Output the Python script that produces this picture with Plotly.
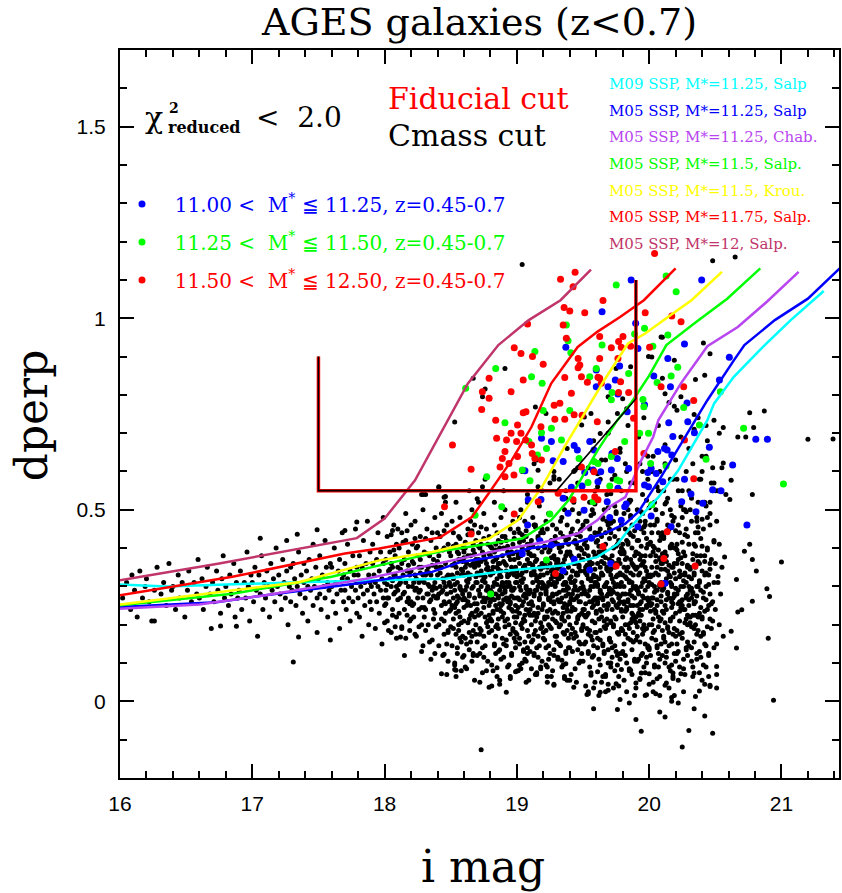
import plotly.graph_objects as go

# ---------------- model curves (i mag, dperp) ----------------
M09_SALP_1125_I = [16.0, 16.35, 17.35, 18.1, 18.46, 18.96, 19.36, 19.61, 19.76, 19.86, 20.07, 20.22, 20.34, 20.44, 20.49, 20.64, 20.86, 21.07, 21.32]
M09_SALP_1125_D = [0.305, 0.300, 0.311, 0.318, 0.320, 0.342, 0.355, 0.377, 0.410, 0.455, 0.533, 0.603, 0.673, 0.734, 0.777, 0.847, 0.925, 0.995, 1.071]

M05_SALP_1125_I = [16.0, 16.73, 17.1, 17.86, 18.36, 18.58, 18.86, 19.09, 19.46, 19.66, 19.82, 19.92, 20.09, 20.24, 20.35, 20.44, 20.64, 20.72, 20.95, 21.2, 21.44]
M05_SALP_1125_D = [0.246, 0.259, 0.277, 0.311, 0.338, 0.364, 0.379, 0.399, 0.416, 0.438, 0.464, 0.495, 0.586, 0.673, 0.734, 0.786, 0.890, 0.930, 0.995, 1.051, 1.130]

M05_CHAB_1125_I = [16.0, 16.6, 17.1, 17.86, 18.46, 18.86, 19.21, 19.46, 19.61, 19.71, 19.82, 19.94, 20.03, 20.07, 20.24, 20.44, 20.67, 20.89, 21.13]
M05_CHAB_1125_D = [0.242, 0.253, 0.277, 0.320, 0.364, 0.394, 0.416, 0.438, 0.473, 0.510, 0.533, 0.629, 0.690, 0.734, 0.830, 0.927, 0.977, 1.043, 1.121]

M05_SALP_115_I = [16.0, 16.85, 17.6, 17.96, 18.46, 19.04, 19.26, 19.39, 19.46, 19.61, 19.76, 19.86, 20.0, 20.13, 20.34, 20.59, 20.84]
M05_SALP_115_D = [0.251, 0.281, 0.325, 0.355, 0.394, 0.425, 0.473, 0.525, 0.565, 0.655, 0.734, 0.777, 0.850, 0.930, 0.986, 1.051, 1.130]

M05_KROU_115_I = [16.0, 17.35, 17.96, 18.36, 18.79, 19.01, 19.19, 19.36, 19.51, 19.66, 19.84, 19.97, 20.15, 20.32, 20.55]
M05_KROU_115_D = [0.253, 0.311, 0.368, 0.390, 0.425, 0.473, 0.560, 0.664, 0.751, 0.838, 0.934, 0.960, 1.005, 1.047, 1.121]

M05_SALP_1175_I = [16.0, 16.85, 17.70, 17.96, 18.42, 18.66, 18.785, 18.96, 19.11, 19.26, 19.46, 19.61, 19.78, 19.96, 20.2]
M05_SALP_1175_D = [0.277, 0.325, 0.386, 0.399, 0.428, 0.481, 0.542, 0.629, 0.716, 0.830, 0.925, 0.965, 1.003, 1.047, 1.130]

M05_SALP_12_I = [16.0, 16.75, 17.79, 18.0, 18.23, 18.41, 18.63, 18.86, 19.09, 19.33, 19.56]
M05_SALP_12_D = [0.316, 0.360, 0.426, 0.477, 0.577, 0.690, 0.830, 0.930, 0.995, 1.047, 1.127]

MODEL_LABELS = ["M09 SSP, M*=11.25, Salp", "M05 SSP, M*=11.25, Salp", "M05 SSP, M*=11.25, Chab.",
                "M05 SSP, M*=11.5, Salp.", "M05 SSP, M*=11.5, Krou.", "M05 SSP, M*=11.75, Salp.",
                "M05 SSP, M*=12, Salp."]
MODEL_COLORS = ["#00ffff", "#0000ff", "#b845f0", "#00ff00", "#ffff00", "#ff0000", "#c0356a"]

# ---------------- cuts ----------------
FIDUCIAL_I = [17.5, 17.5, 19.9, 19.9]
FIDUCIAL_D = [0.9, 0.55, 0.55, 1.1]
CMASS_I = [17.5, 17.5, 19.3, 19.9, 19.9]
CMASS_D = [0.9, 0.55, 0.55, 0.79, 1.1]

# ---------------- coloured galaxies (i mag, dperp) ----------------
BIN_LABELS = ["11.00 &lt;  M<sup>*</sup> ≦ 11.25, z=0.45-0.7",
              "11.25 &lt;  M<sup>*</sup> ≦ 11.50, z=0.45-0.7",
              "11.50 &lt;  M<sup>*</sup> ≦ 12.50, z=0.45-0.7"]
BIN_COLORS = ["#0000ff", "#00ff00", "#ff0000"]

BLUE_PTS = [(19.864,1.100),(19.644,1.017),(19.37,0.924),(19.898,0.987),(19.915,0.921),(19.777,0.875),(19.60,0.865),
 (19.689,0.821),(19.744,0.839),(19.764,0.802),(19.60,0.821),(19.965,0.774),(19.834,0.756),(19.433,0.668),(19.457,0.656),
 (19.261,0.678),(19.186,0.687),(19.274,0.628),(19.35,0.626),(19.551,0.678),(19.583,0.656),(19.576,0.604),(19.714,0.604),
 (19.845,0.608),(19.061,0.602),(19.182,0.527),(19.35,0.530),(19.412,0.559),(19.493,0.562),(19.827,0.515),(19.995,0.560),
 (20.035,0.849),(20.141,0.895),(20.161,0.821),(20.148,0.727),(20.179,0.691),(20.116,0.660),(20.015,0.608),(20.397,1.100),
 (20.267,0.933),(20.606,0.898),(20.531,0.839),(20.286,0.779),(20.292,0.730),(20.342,0.701),(20.806,0.684),(20.894,0.684),
 (20.455,0.663),(20.066,0.652),(20.136,0.656),(20.171,0.643),(20.631,0.617),(19.719,0.647),(19.759,0.634),(19.634,0.599),
 (19.513,0.597),(19.99,0.597),(20.053,0.595),(20.267,0.580),(20.103,0.573),(19.965,0.565),(19.613,0.573),(19.764,0.556),
 (20.48,0.552),(20.543,0.550),(20.316,0.541),(20.246,0.521),(20.405,0.517),(19.508,0.499),(19.683,0.521),(19.815,0.508),
 (19.702,0.480),(19.789,0.473),(20.015,0.484),(20.354,0.495),(20.166,0.456),(19.915,0.456),(20.739,0.460),(19.563,0.426),
 (19.709,0.360),(19.551,0.343),(20.12,0.308),(19.086,0.526),(19.387,0.491),(19.081,0.460),(19.174,0.419),(19.261,0.408),
 (19.041,0.385),(19.433,0.371),(19.35,0.341)]

GREEN_PTS = [(19.751,1.087),(19.374,0.982),(19.387,0.941),(19.408,0.910),(19.136,0.913),(18.84,0.869),(19.111,0.847),
 (19.191,0.830),(19.60,0.869),(19.551,0.847),(19.644,0.930),(19.965,0.974),(18.613,0.817),(19.199,0.759),(18.91,0.727),
 (19.261,0.713),(19.40,0.759),(19.186,0.701),(19.337,0.682),(19.091,0.678),(19.224,0.660),(19.156,0.643),(19.041,0.604),
 (18.772,0.586),(19.099,0.576),(19.47,0.634),(19.583,0.626),(19.714,0.787),(19.815,0.678),(19.845,0.856),(19.96,0.769),
 (19.928,0.700),(19.714,0.639),(19.757,0.578),(19.702,0.562),(18.885,0.508),(18.684,0.486),(20.128,1.110),(20.204,1.069),
 (19.89,0.959),(20.141,0.956),(20.028,0.927),(20.216,0.872),(20.166,0.849),(20.06,0.832),(19.719,0.806),(19.953,0.788),
 (20.538,0.808),(20.261,0.767),(20.38,0.721),(19.995,0.700),(20.714,0.713),(20.011,0.621),(20.128,0.614),(19.613,0.621),
 (19.777,0.575),(19.538,0.571),(19.576,0.521),(20.43,0.632),(21.015,0.567),(20.02,0.513),(19.249,0.489),(19.224,0.369),
 (18.802,0.280)]

RED_PTS = [(19.44,1.120),(19.33,1.102),(19.425,1.082),(19.651,1.046),(19.357,1.028),(19.40,1.019),(19.513,1.014),
 (19.081,0.985),(19.35,0.982),(19.374,0.948),(18.98,0.923),(19.031,0.908),(19.118,0.900),(19.199,0.880),(19.463,0.895),
 (19.476,0.878),(19.626,0.895),(19.714,0.923),(19.764,0.895),(19.802,0.952),(19.789,0.924),(18.79,0.843),(19.048,0.839),
 (19.362,0.845),(19.488,0.847),(19.533,0.833),(19.463,0.871),(19.613,0.846),(19.638,0.830),(18.739,0.808),(18.79,0.791),
 (18.956,0.808),(19.412,0.804),(18.734,0.762),(19.069,0.756),(19.282,0.773),(19.325,0.778),(19.433,0.748),(19.287,0.736),
 (18.84,0.734),(19.048,0.753),(19.005,0.721),(18.956,0.700),(19.031,0.700),(19.182,0.717),(19.362,0.736),(18.847,0.687),
 (18.922,0.682),(18.998,0.678),(19.066,0.682),(19.608,0.730),(19.882,0.739),(19.493,0.747),(18.513,0.669),(19.111,0.669),
 (18.91,0.652),(19.116,0.647),(19.136,0.634),(19.186,0.630),(19.005,0.639),(18.94,0.621),(18.89,0.634),(19.744,0.652),
 (18.873,0.612),(18.654,0.606),(18.91,0.586),(18.978,0.591),(19.312,0.543),(18.453,0.508),(18.98,0.489),(19.589,0.534),
 (19.613,0.526),(20.041,1.169),(19.97,1.014),(20.171,1.006),(20.241,0.991),(19.769,0.939),(19.626,0.952),(20.003,0.924),
 (19.86,0.927),(19.784,0.834),(19.769,0.806),(19.845,0.806),(19.626,0.843),(20.261,0.821),(20.09,0.821),(20.337,0.785),
 (19.96,0.647),(19.583,0.599),(19.488,0.612),(19.508,0.533),(20.267,0.682),(20.337,0.581),(20.136,0.443),(19.651,0.404),
 (20.111,0.373),(19.751,0.353),(20.347,0.353),(20.09,0.306),(18.654,0.437),(19.292,0.334),(19.161,0.521),(19.425,0.526)]

# ---------------- black galaxies ----------------
# each line: column start (i mag) : pairs "hundredths of mag inside column , dperp in hundredths"
BLACK_COLUMNS = """
16.0: 2,27 5,31 8,24 9,33
16.1: 1,29 3,22 5,34 7,27 9,30
16.2: 0,32 2,26 4,21 6,29 8,35
16.3: 1,28 3,31 5,25 7,36 9,29
16.4: 0,30 2,24 4,33 5,27 7,31 9,22
16.5: 1,29 2,34 4,26 6,31 8,28 9,37
16.6: 0,27 2,32 3,24 5,30 6,35 8,28 9,19
16.7: 0,31 1,26 3,34 4,29 6,23 7,32 8,38 9,27
16.8: 0,30 2,25 3,33 4,28 6,36 7,22 8,31 9,27
16.9: 0,29 1,34 2,24 4,31 5,27 6,39 7,30 8,21 9,33
17.0: 0,31 1,26 2,35 3,29 4,17 5,33 6,28 7,38 8,24 9,31
17.1: 0,27 1,34 2,30 3,22 4,36 5,29 6,32 7,26 8,40 9,30
17.2: 0,33 1,28 2,24 3,37 4,31 5,27 6,34 7,20 8,30 9,35 9,26
17.3: 0,29 1,36 2,32 3,25 4,30 5,39 6,28 7,33 8,23 9,31 9,36
17.4: 0,27 1,34 2,30 2,21 3,37 4,29 5,32 6,25 6,41 7,30 8,35 9,27 9,18
17.5: 0,32 1,28 1,38 2,24 3,33 4,30 5,27 5,42 6,35 7,22 7,31 8,29 9,36 9,16
17.6: 0,30 0,35 1,26 2,40 3,31 3,23 4,28 5,34 6,37 6,19 7,29 8,32 8,44 9,26 9,33
17.7: 0,29 0,36 1,24 2,32 2,41 3,27 4,34 4,21 5,30 6,38 6,26 7,33 8,29 8,45 9,23 9,35 9,31
17.8: 0,33 0,27 1,38 1,22 2,30 3,35 3,17 4,28 4,42 5,31 5,25 6,36 7,29 7,47 8,33 8,20 9,26 9,39 9,31
17.9: 0,30 0,24 1,36 1,41 2,28 2,33 3,19 3,31 4,37 4,26 5,44 5,30 6,23 6,34 7,29 7,39 8,15 8,32 9,27 9,36 9,48
18.0: 0,31 0,25 1,37 1,29 2,43 2,21 3,34 3,27 4,32 4,39 5,18 5,30 6,35 6,24 7,28 7,46 8,33 8,38 9,22 9,30 9,41 5,36 2,27 7,33
18.1: 0,29 0,35 1,23 1,40 2,31 2,27 3,44 3,19 4,33 4,28 5,37 5,24 6,31 6,49 7,26 7,34 8,30 8,39 9,21 9,33 3,36 5,12 8,27 6,42 1,32 0,45
18.2: 0,34 0,26 1,30 1,41 2,22 2,36 3,29 3,47 4,32 4,17 5,27 5,38 6,31 6,24 7,43 7,29 8,35 8,20 9,33 9,27 9,50 2,31 4,40 6,35 8,13 1,25 3,33 7,37
18.3: 0,31 0,39 1,24 1,33 2,28 2,45 3,35 3,20 4,30 4,26 5,42 5,33 6,16 6,29 7,37 7,24 8,31 8,48 9,27 9,35 0,22 2,34 4,38 5,11 6,44 7,30 8,23 9,40 3,28 1,54
18.4: 0,33 0,27 1,38 1,20 2,30 2,43 3,25 3,35 4,29 4,12 5,40 5,31 6,23 6,36 7,28 7,46 8,33 8,18 9,39 9,26 0,44 2,35 3,49 4,32 5,21 6,30 7,15 7,7 8,41 9,31 1,28 5,26 6,52
18.5: 0,30 0,38 1,25 1,33 2,44 2,19 3,29 3,36 4,23 4,41 5,31 5,14 6,37 6,27 7,48 7,22 8,33 8,29 9,40 9,17 0,24 1,47 2,32 3,10 4,35 5,26 6,43 7,30 8,8 9,34 2,27 4,52 6,20 8,37 5,39 9,28
18.6: 0,33 0,21 1,29 1,40 2,36 2,25 3,45 3,31 4,18 4,28 5,38 5,33 6,23 6,50 7,30 7,12 8,35 8,27 9,42 9,20 0,27 1,35 2,15 3,38 4,32 5,25 6,44 7,36 8,22 9,31 1,9 3,26 5,47 7,41 9,37 2,30 4,55 6,17 8,46 0,39
18.7: 0,31 0,24 1,37 1,44 2,28 2,19 3,34 3,41 4,26 4,14 5,32 5,49 6,22 6,37 7,29 7,8 8,35 8,27 9,43 9,18 0,36 1,29 2,33 3,23 4,39 5,27 6,31 7,45 8,21 9,34 0,12 1,52 2,40 3,30 4,33 5,17 6,26 7,36 8,41 9,25 2,5 5,38 8,30 6,58
18.8: 0,33 0,26 1,40 1,21 2,35 2,30 3,46 3,15 4,28 4,37 5,24 5,32 6,42 6,19 7,29 7,36 8,11 8,25 9,38 9,31 0,29 1,34 2,23 3,39 4,17 5,44 6,27 7,33 8,48 9,22 0,38 1,27 2,8 3,31 4,41 5,35 6,13 7,24 8,30 9,43 1,4 3,52 5,20 7,40 9,28 4,25 6,36 8,34
18.9: 0,30 0,23 1,36 1,43 2,27 2,16 3,33 3,39 4,20 4,31 5,45 5,26 6,35 6,12 7,29 7,41 8,22 8,37 9,31 9,18 0,40 1,29 2,34 3,9 4,38 5,30 6,24 7,47 8,27 9,35 0,15 1,21 2,42 3,26 4,33 5,6 6,39 7,19 8,44 9,25 1,50 3,30 5,37 7,34 9,14 2,31 4,27 6,29 8,33 0,55
19.0: 0,31 0,22 1,38 1,27 2,44 2,15 3,33 3,29 4,40 4,19 5,26 5,35 6,47 6,11 7,30 7,24 8,37 8,41 9,28 9,17 0,34 1,8 2,30 3,50 4,25 5,32 6,21 7,43 8,14 9,36 0,27 1,45 2,23 3,38 4,31 5,13 6,35 7,5 8,29 9,40 1,33 3,20 5,42 7,27 9,23 0,39 2,36 4,10 6,28 8,54 4,60 7,34
19.1: 0,29 0,36 1,20 1,42 2,31 2,25 3,38 3,12 4,33 4,46 5,22 5,29 6,40 6,17 7,35 7,27 8,9 8,44 9,31 9,24 0,13 1,33 2,48 3,28 4,21 5,37 6,30 7,42 8,19 9,36 0,41 1,26 2,16 3,34 4,7 5,32 6,23 7,51 8,28 9,39 1,38 3,23 5,14 7,31 9,45 0,24 2,35 4,29 6,43 8,33 6,56 3,62
19.2: 0,33 0,25 1,40 1,16 2,29 2,37 3,22 3,45 4,31 4,11 5,36 5,27 6,19 6,42 7,33 7,8 8,26 8,38 9,30 9,21 0,44 1,30 2,14 3,35 4,27 5,49 6,32 7,23 8,41 9,17 0,18 1,36 2,28 3,5 4,39 5,24 6,34 7,46 8,12 9,37 1,22 3,30 5,40 7,28 9,43 0,35 2,47 4,20 6,26 8,31 5,57 8,60
19.3: 0,28 0,36 1,23 1,41 2,32 2,15 3,39 3,26 4,9 4,34 5,43 5,29 6,21 6,37 7,31 7,13 8,46 8,24 9,35 9,28 0,17 1,32 2,40 3,20 4,27 5,36 6,6 7,42 8,30 9,22 0,45 1,11 2,26 3,33 4,48 5,18 6,31 7,38 8,25 9,41 1,37 3,44 5,23 7,29 9,14 0,31 2,35 4,22 6,50 8,39 2,58 7,55
19.4: 0,32 0,20 1,38 1,27 2,45 2,13 3,31 3,36 4,24 4,42 5,17 5,33 6,29 6,47 7,10 7,35 8,26 8,40 9,31 9,19 0,39 1,7 2,34 3,24 4,30 5,41 6,22 7,49 8,15 9,37 0,26 1,44 2,19 3,29 4,36 5,5 6,33 7,26 8,43 9,28 1,31 3,52 5,27 7,38 9,23 0,14 2,28 4,18 6,40 8,34 3,60 6,57
19.5: 0,30 0,24 1,41 1,15 2,35 2,28 3,47 3,19 4,32 4,38 5,9 5,26 6,43 6,30 7,21 7,36 8,12 8,33 9,44 9,27 0,37 1,29 2,4 3,40 4,23 5,35 6,17 7,50 8,25 9,31 0,20 1,34 2,42 3,28 4,13 5,45 6,32 7,26 8,39 9,18 1,24 3,33 5,29 7,16 9,38 0,46 2,22 4,2 6,36 8,30 4,61 9,55
19.6: 0,31 0,18 1,36 1,26 2,44 2,11 3,29 3,39 4,22 4,33 5,48 5,15 6,30 6,25 7,41 7,7 8,35 8,20 9,28 9,46 0,38 1,14 2,32 3,24 4,43 5,27 6,36 7,19 8,31 9,10 0,23 1,42 2,27 3,35 4,5 5,38 6,21 7,30 8,47 9,34 1,30 3,16 5,33 7,44 9,25 0,27 2,39 4,28 6,13 8,24 3,58 7,63
19.7: 0,29 0,37 1,21 1,44 2,32 2,14 3,40 3,26 4,8 4,35 5,30 5,49 6,18 6,33 7,27 7,42 8,11 8,36 9,24 9,31 0,45 1,28 2,38 3,20 4,30 5,13 6,41 7,33 8,26 9,46 0,16 1,33 2,24 3,47 4,22 5,36 6,28 7,4 8,39 9,19 1,10 3,31 5,25 7,37 9,40 0,34 2,29 4,43 6,12 8,30 4,59 8,65
19.8: 0,33 0,22 1,39 1,15 2,28 2,45 3,34 3,10 4,26 4,41 5,31 5,19 6,48 6,25 7,36 7,7 8,30 8,43 9,21 9,35 0,13 1,30 2,37 3,24 4,50 5,28 6,16 7,40 8,33 9,11 0,41 1,26 2,20 3,32 4,35 5,44 6,29 7,23 8,18 9,38 1,35 3,42 5,8 7,31 9,27 0,28 2,12 4,20 6,37 8,25 2,62 6,57
19.9: 0,30 0,39 1,25 1,17 2,42 2,33 3,21 3,47 4,12 4,30 5,36 5,24 6,9 6,44 7,29 7,35 8,19 8,40 9,27 9,14 0,22 1,35 2,28 3,6 4,38 5,31 6,20 7,46 8,25 9,33 0,16 1,42 2,11 3,37 4,26 5,49 6,32 7,15 8,34 9,41 1,29 3,24 5,19 7,38 9,30 0,35 2,23 4,45 6,27 8,10 5,60 9,64
20.0: 0,31 0,20 1,38 1,12 2,27 2,44 3,33 3,5 4,24 4,40 5,29 5,16 6,47 6,35 7,22 7,9 8,37 8,30 9,26 9,43 0,14 1,33 2,20 3,39 4,30 5,50 6,25 7,33 8,11 9,36 0,41 1,25 2,35 3,18 4,9 5,38 6,29 7,44 8,21 9,15 1,46 3,27 5,23 7,55 9,31 2,60 4,52 6,14 8,42 0,26
20.1: 0,29 0,36 1,17 1,43 2,31 2,10 3,38 3,24 4,46 4,19 5,33 5,27 6,8 6,40 7,30 7,15 8,35 8,22 9,48 9,28 0,12 1,30 2,25 3,52 4,34 5,18 6,31 7,41 8,6 9,36 0,44 1,23 2,39 3,13 4,28 5,45 6,21 7,35 8,27 9,19 1,55 3,32 5,9 7,26 9,40 2,62 6,50 8,58
20.2: 0,32 0,23 1,41 1,15 2,29 2,37 3,9 3,44 4,26 4,33 5,18 5,48 6,30 6,11 7,38 7,24 8,31 8,45 9,20 9,35 0,40 1,28 2,13 3,34 4,51 5,25 6,39 7,7 8,27 9,43 0,17 1,36 2,46 3,21 4,30 5,55 6,24 7,33 8,14 9,28 1,58 3,26 5,36 7,50 9,12
20.3: 0,30 0,41 1,22 1,35 2,14 2,47 3,28 3,37 4,19 4,33 5,26 5,44 6,11 6,38 7,30 7,52 8,23 8,36 9,29 9,17 0,25 1,50 2,32 3,9 4,41 5,20 6,30 7,44 8,13 9,38 0,55 2,27 4,26 6,48 8,31 9,58 3,62 5,35 7,22 1,29
20.4: 0,34 0,22 1,45 1,27 2,38 2,15 3,30 3,51 4,24 4,40 5,33 5,12 6,46 6,28 7,19 7,37 8,55 8,26 9,31 9,42 0,60 1,18 2,33 3,9 4,48 5,25 6,36 7,57 8,21 9,14 3,64 6,52
20.5: 0,36 0,24 1,47 1,15 2,31 2,55 3,20 3,41 4,28 5,35 5,61 6,17
"""

# dense core: same layout, dperp in thousandths
BLACK_CORE = """
18.0: 1,255 3,185 4,345 6,225 7,395 8,285 9,165 2,305 5,435 0,205 6,315 8,195
18.1: 0,265 2,345 3,195 4,415 5,285 7,225 8,355 9,185 1,305 6,165 7,445 9,255
18.2: 0,215 1,365 2,255 3,175 4,295 5,405 6,195 7,335 8,245 9,145 3,425 6,285 8,315
18.3: 0,245 1,185 2,385 3,305 4,155 5,265 6,355 7,215 8,125 9,295 1,425 4,335 7,275 9,195
18.4: 0,275 1,145 2,335 3,215 4,395 5,175 6,255 7,325 8,105 9,235 0,365 3,285 5,445 8,185 9,305
18.5: 0,285 1,145 1,355 2,215 2,405 3,095 3,305 4,175 4,255 5,335 5,125 6,235 6,385 7,165 7,295 8,205 8,345 9,265 9,115 0,195 2,325 4,065 5,275 7,425 8,155 9,365 3,245 6,185
18.6: 0,245 0,375 1,165 2,315 2,085 3,205 3,435 4,275 4,135 5,355 5,225 6,105 6,295 7,185 7,395 8,255 8,055 9,325 9,175 1,265 3,335 4,215 6,445 7,125 8,385 9,235 1,415 5,155
18.7: 0,335 0,155 1,225 1,405 2,275 2,125 3,365 3,185 4,075 4,315 5,245 5,425 6,145 6,265 7,345 7,205 8,105 8,295 9,385 9,225 0,255 2,175 3,455 5,115 6,325 8,195 9,285 1,355
18.8: 0,215 0,405 1,285 1,095 2,365 2,235 3,145 3,265 4,395 4,195 5,305 5,065 6,215 6,345 7,255 7,135 8,415 8,235 9,165 9,305 1,185 2,335 4,125 5,375 6,275 7,045 8,325 9,255
18.9: 1,285 2,145 2,355 3,215 3,405 4,095 4,305 5,175 5,255 6,335 6,125 7,235 7,385 8,165 8,295 9,205 9,345 0,265 0,115 1,195 3,325 5,065 6,275 8,425 9,155 0,365 4,245 7,185
19.0: 1,245 1,375 2,165 3,315 3,085 4,205 4,435 5,275 5,135 6,355 6,225 7,105 7,295 8,185 8,395 9,255 9,055 0,325 0,175 2,265 4,335 5,215 7,445 8,125 9,385 0,235 2,415 6,155
19.1: 1,335 1,155 2,225 2,405 3,275 3,125 4,365 4,185 5,075 5,315 6,245 6,425 7,145 7,265 8,345 8,205 9,105 9,295 0,385 0,225 1,255 3,175 4,455 6,115 7,325 9,195 0,285 2,355
19.2: 1,215 1,405 2,285 2,095 3,365 3,235 4,145 4,265 5,395 5,195 6,305 6,065 7,215 7,345 8,255 8,135 9,415 9,235 0,165 0,305 2,185 3,335 5,125 6,375 7,275 8,045 9,325 0,255
19.3: 2,285 3,145 3,355 4,215 4,405 5,095 5,305 6,175 6,255 7,335 7,125 8,235 8,385 9,165 9,295 0,205 0,345 1,265 1,115 2,195 4,325 6,065 7,275 9,425 0,155 1,365 5,245 8,185
19.4: 2,245 2,375 3,165 4,315 4,085 5,205 5,435 6,275 6,135 7,355 7,225 8,105 8,295 9,185 9,395 0,255 0,055 1,325 1,175 3,265 5,335 6,215 8,445 9,125 0,385 1,235 3,415 7,155
19.5: 2,335 2,155 3,225 3,405 4,275 4,125 5,365 5,185 6,075 6,315 7,245 7,425 8,145 8,265 9,345 9,205 0,105 0,295 1,385 1,225 2,255 4,175 5,455 7,115 8,325 0,195 1,285 3,355 4,025 6,485 8,035 9,515
19.6: 2,215 2,405 3,285 3,095 4,365 4,235 5,145 5,265 6,395 6,195 7,305 7,065 8,215 8,345 9,255 9,135 0,415 0,235 1,165 1,305 3,185 4,335 6,125 7,375 8,275 9,045 0,325 1,255 2,015 5,475 7,025 9,505
19.7: 3,285 4,145 4,355 5,215 5,405 6,095 6,305 7,175 7,255 8,335 8,125 9,235 9,385 0,165 0,295 1,205 1,345 2,265 2,115 3,195 5,325 7,065 8,275 0,425 1,155 2,365 6,245 9,185 3,035 5,495 8,005 1,465
19.8: 3,245 3,375 4,165 5,315 5,085 6,205 6,435 7,275 7,135 8,355 8,225 9,105 9,295 0,185 0,395 1,255 1,055 2,325 2,175 4,265 6,335 7,215 9,445 0,125 1,385 2,235 4,415 8,155 3,025 6,485 9,015 5,525
19.9: 3,335 3,155 4,225 4,405 5,275 5,125 6,365 6,185 7,075 7,315 8,245 8,425 9,145 9,265 0,345 0,205 1,105 1,295 2,385 2,225 3,255 5,175 6,455 8,115 9,325 1,195 2,285 4,355 0,035 4,495 7,015 8,525
20.0: 3,215 3,405 4,285 4,095 5,365 5,235 6,145 6,265 7,395 7,195 8,305 8,065 9,215 9,345 0,255 0,135 1,415 1,235 2,165 2,305 4,185 5,335 7,125 8,375 9,275 0,045 1,325 2,255 3,025 6,475 8,015 0,505
20.1: 4,285 5,145 5,355 6,215 6,405 7,095 7,305 8,175 8,255 9,335 9,125 0,235 0,385 1,165 1,295 2,205 2,345 3,265 3,115 4,195 6,325 8,065 9,275 1,425 2,155 3,365 7,245 0,185 5,035 7,485 9,015 2,515
20.2: 4,245 4,375 5,165 6,315 6,085 7,205 7,435 8,275 8,135 9,355 9,225 0,105 0,295 1,185 1,395 2,255 2,055 3,325 3,175 5,265 7,335 8,215 0,445 1,125 2,385 3,235 5,415 9,155 6,025 8,495
20.3: 4,335 4,155 5,225 5,405 6,275 6,125 7,365 7,185 8,075 8,315 9,245 9,425 0,145 0,265 1,345 1,205 2,105 2,295 3,385 3,225 4,255 6,175 7,455 9,115 0,325 2,195 3,285 5,355
20.4: 0,215 0,405 1,285 1,095 2,365 2,235 3,145 3,265 4,395 4,195 5,305 5,065 6,215 6,345 7,255 1,175 3,335 5,125 0,475 2,045
"""

BLACK_SPARSE = [(20.48,1.15),(20.65,1.16),(19.04,1.14),(19.995,0.90),(20.41,0.935),(20.46,0.907),(20.35,0.84),(20.19,0.89),
 (20.19,0.77),(20.24,0.795),(20.12,0.803),(20.34,0.749),(20.76,0.753),(20.87,0.758),(20.79,0.715),(20.49,0.734),(20.43,0.72),
 (20.56,0.715),(20.73,0.69),(21.2,0.684),(21.39,0.685),(20.42,0.851),(19.86,0.873),(20.1,0.95),(20.56,0.622),(20.62,0.577),
 (20.49,0.57),(20.78,0.54),(20.67,0.69),(20.58,0.54),(20.61,0.527),(20.72,0.392),(20.76,0.41),(21.0,0.364),(20.89,0.294),
 (20.91,0.274),(20.78,0.37),(20.66,0.318),(20.49,0.416),(20.57,0.377),(20.52,0.326),(20.81,0.34),(20.78,0.261),(20.70,0.239),
 (20.67,0.233),(20.62,0.183),(20.9,0.165),(20.66,0.139),(20.94,0.003),
 (18.67,0.843),(18.76,0.815),(18.74,0.795),(18.91,0.869),(18.53,0.729),(19.14,0.768),(19.22,0.751),(19.56,0.751),(19.69,0.795),
 (19.80,0.79),(19.75,0.869),(19.63,0.699),(19.69,0.729),(19.49,0.721),(19.51,0.742),(19.76,0.751),(19.83,0.764),(18.41,0.56),
 (18.29,0.54),(18.45,0.533),(18.74,0.56),(18.70,0.529),(19.16,0.603),(19.28,0.587),(19.44,0.603),(19.61,0.594),(19.71,0.542),
 (19.86,0.525),(20.09,0.951),(20.02,0.899),(20.10,0.843),
 (19.52,0.47),(19.55,0.52),(19.58,0.49),(19.61,0.56),(19.63,0.45),(19.66,0.50),(19.68,0.54),(19.70,0.47),(19.72,0.58),(19.74,0.51),
 (19.77,0.45),(19.79,0.55),(19.81,0.49),(19.83,0.60),(19.85,0.52),(19.87,0.46),(19.89,0.57),(19.91,0.50),(19.93,0.62),(19.95,0.54),
 (19.97,0.47),(19.99,0.58),(20.01,0.51),(20.03,0.64),(20.04,0.46),(20.06,0.56),(20.08,0.60),(20.10,0.49),(20.12,0.67),(20.14,0.53),
 (20.16,0.58),(20.18,0.47),(20.20,0.63),(20.22,0.55),(20.24,0.69),(20.26,0.50),(20.28,0.60),(20.30,0.66),(20.32,0.53),(20.34,0.71),
 (20.36,0.47),(20.38,0.58),(20.40,0.64),(20.42,0.52),(20.44,0.68),(20.46,0.49),(20.48,0.61),(20.50,0.55),(20.53,0.70),(19.64,0.63),
 (19.78,0.66),(19.92,0.69),(20.07,0.72),(20.21,0.76),(20.37,0.74),(19.69,0.70),(19.96,0.74),(20.15,0.78),(19.58,0.68),(19.84,0.72),
 (19.02,0.48),(19.08,0.52),(19.13,0.46),(19.19,0.55),(19.24,0.49),(19.28,0.58),(19.33,0.47),(19.37,0.53),(19.42,0.50),(19.46,0.61),
 (19.49,0.45),(19.15,0.63),(19.38,0.66),
 (18.73,-0.126),(18.43,0.072),(18.54,0.081),(18.45,0.123),(18.6,0.12),(18.79,0.037),(18.87,0.055),(18.92,0.024),(18.85,0.088),
 (18.99,0.077),(19.11,0.085),(19.18,0.085),(19.15,0.07),(19.23,0.09),(19.23,0.065),(19.28,0.042),(19.38,0.055),(19.43,0.037),
 (19.53,0.018),(19.58,-0.019),(19.63,0.024),(19.69,0.029),(19.76,-0.021),(19.85,-0.004),(19.9,-0.047),(19.9,0.048),(19.75,0.046),
 (19.59,0.05),(19.56,0.068),(19.61,0.077),(19.65,0.065),(19.37,0.098),(19.34,0.107),(19.02,0.094),(19.0,0.079),(20.25,-0.119),
 (19.94,-0.078),(20.08,-0.028),(20.12,-0.041),(20.30,-0.076),(20.48,-0.083),(20.42,-0.038),(20.34,-0.019),(20.17,0.01),(20.17,0.0),
 (20.22,-0.004),(19.98,0.017),(20.05,0.02),(20.35,0.013),(20.38,0.027),(20.46,0.039),(20.51,0.035),(19.93,0.057),(20.12,0.042),
 (20.13,0.048),(20.4,0.055),(20.51,0.07),(20.51,0.091),(20.46,0.042),(20.33,0.065),(20.34,0.074),(20.24,0.072),(20.18,0.074),
 (20.06,0.059),(20.0,0.072),(19.86,0.081),(19.79,0.083),(19.71,0.09),(19.94,0.074),
 (17.35,0.168),(17.31,0.103),(16.76,0.197),(16.88,0.196),(16.26,0.21),(18.12,0.168),(18.53,0.083),(17.79,0.468),(17.49,0.448),
 (17.70,0.446),(17.34,0.436),(17.26,0.42),(17.06,0.426),(18.28,0.54),(18.41,0.558),(18.46,0.535),(18.2,0.46),(18.06,0.446)]

# ---------------- decode black tables ----------------
black_i, black_d = [], []
for table, scale in ((BLACK_COLUMNS, 100.0), (BLACK_CORE, 1000.0)):
    for line in table.strip().splitlines():
        col, pairs = line.split(":")
        base = float(col)
        for p in pairs.split():
            a, b = p.split(",")
            black_i.append(round(base + int(a) / 100.0, 3))
            black_d.append(int(b) / scale)
for a, b in BLACK_SPARSE:
    black_i.append(a)
    black_d.append(b)

# ---------------- figure ----------------
W, H = 842, 893
L, R, T, B = 120, 1, 50, 115
PW, PH = W - L - R, H - T - B


def px(x):
    return (x - L) / PW


def py(y):
    return (H - B - y) / PH


SERIF = "DejaVu Serif"
fig = go.Figure()

fig.add_trace(go.Scatter(x=black_i, y=black_d, mode="markers", showlegend=False,
                         marker=dict(color="black", size=5, line=dict(width=0)), hoverinfo="skip"))

for pts, lab, col, lg in zip([BLUE_PTS, GREEN_PTS, RED_PTS], BIN_LABELS, BIN_COLORS, ["legend", "legend2", "legend3"]):
    fig.add_trace(go.Scatter(x=[p[0] for p in pts], y=[p[1] for p in pts], mode="markers",
                             name="\u00a0\u00a0" + lab, legend=lg, showlegend=True,
                             marker=dict(color=col, size=7, line=dict(width=0))))

models = [(M09_SALP_1125_I, M09_SALP_1125_D), (M05_SALP_1125_I, M05_SALP_1125_D), (M05_CHAB_1125_I, M05_CHAB_1125_D),
          (M05_SALP_115_I, M05_SALP_115_D), (M05_KROU_115_I, M05_KROU_115_D), (M05_SALP_1175_I, M05_SALP_1175_D),
          (M05_SALP_12_I, M05_SALP_12_D)]
for (xi, yd), col, lab in zip(models, MODEL_COLORS, MODEL_LABELS):
    fig.add_trace(go.Scatter(x=xi, y=yd, mode="lines", name=lab, showlegend=False,
                             line=dict(color=col, width=2.5)))

fig.add_trace(go.Scatter(x=FIDUCIAL_I, y=FIDUCIAL_D, mode="lines", showlegend=False,
                         line=dict(color="#ff0000", width=3.5)))
fig.add_trace(go.Scatter(x=CMASS_I, y=CMASS_D, mode="lines", showlegend=False,
                         line=dict(color="black", width=1.6)))

annotations = []
for k, (lab, col) in enumerate(zip(MODEL_LABELS, MODEL_COLORS)):
    annotations.append(dict(x=px(608), y=py(84 + 26.7 * k), xref="paper", yref="paper", xanchor="left",
                            yanchor="middle", text=lab, showarrow=False,
                            font=dict(family=SERIF, size=15, color=col)))
extra = [
    dict(x=px(387), y=py(98), text="Fiducial cut", font=dict(family=SERIF, size=30, color="#ff0000")),
    dict(x=px(387), y=py(135), text="Cmass cut", font=dict(family=SERIF, size=30, color="black")),
    dict(x=px(143), y=py(117), text="χ", font=dict(family=SERIF, size=30, color="black")),
    dict(x=px(167), y=py(108), text="<b>2</b>", font=dict(family=SERIF, size=14, color="black")),
    dict(x=px(166), y=py(128), text="<b>reduced</b>", font=dict(family=SERIF, size=16, color="black")),
    dict(x=px(254), y=py(117), text="&lt;\u00a0\u00a02.0", font=dict(family=SERIF, size=28, color="black")),
]
for a in extra:
    a.update(xref="paper", yref="paper", xanchor="left", yanchor="middle", showarrow=False)
annotations += extra

annotations.append(dict(x=px(484), y=py(866), xref="paper", yref="paper", text="i mag", showarrow=False,
                        xanchor="center", yanchor="middle", font=dict(family=SERIF, size=44, color="black")))
annotations.append(dict(x=px(31), y=py(415), xref="paper", yref="paper", text="dperp", showarrow=False,
                        textangle=-90, xanchor="center", yanchor="middle",
                        font=dict(family=SERIF, size=44, color="black")))

axis_common = dict(ticks="inside", ticklen=14, tickwidth=1.5, tickcolor="black", showline=True, linewidth=2,
                   linecolor="black", mirror="ticks", showgrid=False, zeroline=False,
                   tickfont=dict(family="Liberation Sans, Arial, sans-serif", size=21, color="black"))

legend_common = dict(xanchor="left", yanchor="middle", bgcolor="rgba(0,0,0,0)", borderwidth=0,
                     itemsizing="trace")

fig.update_layout(
    width=W, height=H, margin=dict(l=L, r=R, t=T, b=B), paper_bgcolor="white", plot_bgcolor="white",
    title=dict(text="AGES galaxies (z&lt;0.7)", x=0.5, xref="paper", xanchor="center", y=1 - 22 / H,
               yref="container", yanchor="middle", font=dict(family=SERIF, size=38, color="black")),
    xaxis=dict(range=[16, 21.435], dtick=1, tick0=16, ticklabelstandoff=6,
               minor=dict(dtick=0.2, ticklen=7, tickwidth=1.5, tickcolor="black", ticks="inside"), **axis_common),
    yaxis=dict(range=[-0.2, 1.70], dtick=0.5, tick0=0, ticklabelstandoff=8,
               minor=dict(dtick=0.1, ticklen=7, tickwidth=1.5, tickcolor="black", ticks="inside"), **axis_common),
    legend=dict(x=px(122), y=py(204), font=dict(family=SERIF, size=20, color=BIN_COLORS[0]), **legend_common),
    legend2=dict(x=px(122), y=py(242), font=dict(family=SERIF, size=20, color=BIN_COLORS[1]), **legend_common),
    legend3=dict(x=px(122), y=py(280), font=dict(family=SERIF, size=20, color=BIN_COLORS[2]), **legend_common),
    annotations=annotations,
)

fig.write_html("out.html")
